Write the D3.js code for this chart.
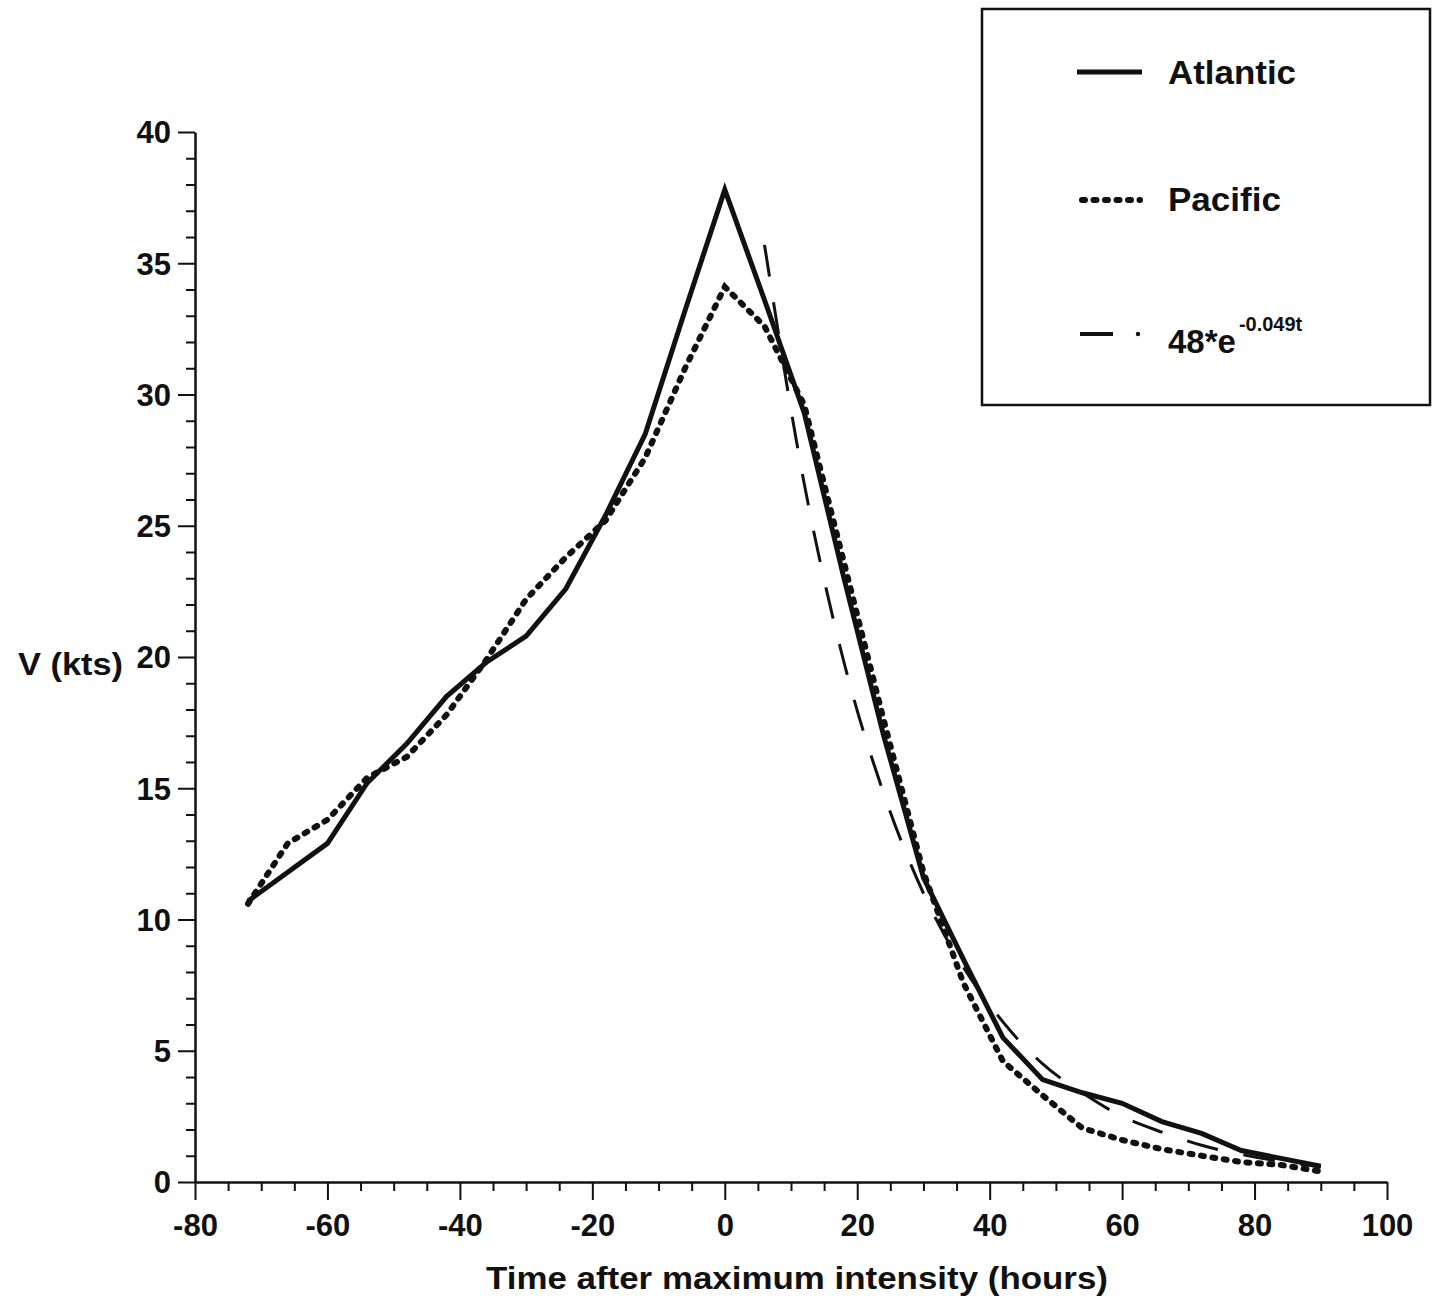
<!DOCTYPE html>
<html>
<head>
<meta charset="utf-8">
<script src="https://cdn.jsdelivr.net/npm/d3@7"></script>
<style>
  html, body { margin: 0; padding: 0; background: #fff; }
  svg { display: block; }
  text { font-family: "Liberation Sans", Arial, sans-serif; font-weight: bold; fill: #111; }
</style>
</head>
<body>
<svg id="chart" width="1433" height="1299"></svg>
<script>
// ---- data ----
const hours = [-72,-66,-60,-54,-48,-42,-36,-30,-24,-18,-12,-6,0,6,12,18,24,30,36,42,48,54,60,66,72,78,84,90];
const atlantic = [10.7,11.8,12.9,15.2,16.7,18.5,19.8,20.8,22.6,25.4,28.5,33.2,37.8,33.6,29.3,23.0,17.0,11.6,8.5,5.5,3.9,3.4,3.0,2.3,1.85,1.2,0.9,0.6];
const pacific  = [10.6,12.9,13.8,15.4,16.2,17.8,19.9,22.2,23.8,25.2,27.6,31.0,34.1,32.6,29.6,23.6,17.6,11.8,7.6,4.6,3.3,2.05,1.6,1.25,1.0,0.76,0.65,0.4];
const fitHours = [6,12,18,24,30,36,42,48,54,60,66,72,78,84,90];
const fitValues = [35.7,26.6,19.8,14.8,11.0,8.2,6.1,4.5,3.4,2.5,1.9,1.4,1.05,0.78,0.58];
const xTicks = [-80,-60,-40,-20,0,20,40,60,80,100];
const yTicks = [0,5,10,15,20,25,30,35,40];
const seriesNames = ["Atlantic", "Pacific"];
const fitLabel = "48*e";
const fitExponent = "-0.049t";
const xTitle = "Time after maximum intensity (hours)";
const yTitle = "V (kts)";

// ---- scales ----
const svg = d3.select("#chart");
const x = d3.scaleLinear().domain([-80, 100]).range([195, 1387]);
const y = d3.scaleLinear().domain([0, 40]).range([1182, 132]);

// ---- axes ----
const minorX = d3.range(-80, 101, 5).filter(v => v % 20 !== 0);
const minorY = d3.range(0, 41, 1).filter(v => v % 5 !== 0);
const fmt = d => String(d);

const gx = svg.append("g").attr("transform", `translate(0,${y(0)})`)
  .call(d3.axisBottom(x).tickValues(xTicks).tickFormat(fmt).tickSize(18).tickPadding(14).tickSizeOuter(0));
svg.append("g").attr("transform", `translate(0,${y(0)})`)
  .call(d3.axisBottom(x).tickValues(minorX).tickSize(9).tickFormat("").tickSizeOuter(0))
  .select(".domain").remove();

const gy = svg.append("g").attr("transform", `translate(${x(-80)},0)`)
  .call(d3.axisLeft(y).tickValues(yTicks).tickFormat(fmt).tickSize(17).tickPadding(7).tickSizeOuter(0));
svg.append("g").attr("transform", `translate(${x(-80)},0)`)
  .call(d3.axisLeft(y).tickValues(minorY).tickSize(9).tickFormat("").tickSizeOuter(0))
  .select(".domain").remove();

svg.selectAll(".domain").attr("stroke", "#111").attr("stroke-width", 2.5);
svg.selectAll(".tick line").attr("stroke", "#111").attr("stroke-width", 2);
svg.selectAll(".tick text").attr("font-size", 31).attr("font-family", "Liberation Sans, Arial, sans-serif")
  .attr("font-weight", "bold").attr("fill", "#111");
gx.selectAll(".tick text").attr("dy", "0.71em");
gy.selectAll(".tick text").attr("dy", "0.35em");

// ---- axis titles ----
svg.append("text").attr("x", 797).attr("y", 1289).attr("text-anchor", "middle")
  .attr("font-size", 31).attr("textLength", 622).attr("lengthAdjust", "spacingAndGlyphs").text(xTitle);
svg.append("text").attr("x", 18).attr("y", 675).attr("text-anchor", "start")
  .attr("font-size", 31).attr("textLength", 105).attr("lengthAdjust", "spacingAndGlyphs").text(yTitle);

// ---- lines ----
const line = d3.line().x(d => x(d[0])).y(d => y(d[1])).curve(d3.curveLinear);

svg.append("path").datum(hours.map((h, i) => [h, pacific[i]]))
  .attr("d", line).attr("fill", "none").attr("stroke", "#111")
  .attr("stroke-width", 6).attr("stroke-dasharray", "3,8.5").attr("stroke-linecap", "round");

svg.append("path").datum(hours.map((h, i) => [h, atlantic[i]]))
  .attr("d", line).attr("fill", "none").attr("stroke", "#111")
  .attr("stroke-width", 5).attr("stroke-linejoin", "miter");

svg.append("path").datum(fitHours.map((h, i) => [h, fitValues[i]]))
  .attr("d", d3.line().x(d => x(d[0])).y(d => y(d[1])).curve(d3.curveMonotoneX))
  .attr("fill", "none").attr("stroke", "#111")
  .attr("stroke-width", 3).attr("stroke-dasharray", "32,26");

// ---- legend ----
const lg = svg.append("g");
lg.append("rect").attr("x", 982).attr("y", 9).attr("width", 448).attr("height", 396)
  .attr("fill", "#fff").attr("stroke", "#111").attr("stroke-width", 2.5);

lg.append("line").attr("x1", 1077).attr("x2", 1142).attr("y1", 72).attr("y2", 72)
  .attr("stroke", "#111").attr("stroke-width", 5);
lg.append("text").attr("x", 1168).attr("y", 84).attr("font-size", 33)
  .attr("textLength", 128).attr("lengthAdjust", "spacingAndGlyphs").text(seriesNames[0]);

lg.append("line").attr("x1", 1082).attr("x2", 1140).attr("y1", 200).attr("y2", 200)
  .attr("stroke", "#111").attr("stroke-width", 6).attr("stroke-dasharray", "3,8.5").attr("stroke-linecap", "round");
lg.append("text").attr("x", 1168).attr("y", 211).attr("font-size", 33)
  .attr("textLength", 113).attr("lengthAdjust", "spacingAndGlyphs").text(seriesNames[1]);

lg.append("line").attr("x1", 1080).attr("x2", 1113).attr("y1", 334).attr("y2", 334)
  .attr("stroke", "#111").attr("stroke-width", 4);
lg.append("circle").attr("cx", 1138).attr("cy", 334).attr("r", 2.2).attr("fill", "#111");
const ft = lg.append("text").attr("x", 1168).attr("y", 353).attr("font-size", 33);
ft.append("tspan").text(fitLabel);
ft.append("tspan").attr("font-size", 20).attr("dx", 3).attr("dy", -22).text(fitExponent);
</script>
</body>
</html>
